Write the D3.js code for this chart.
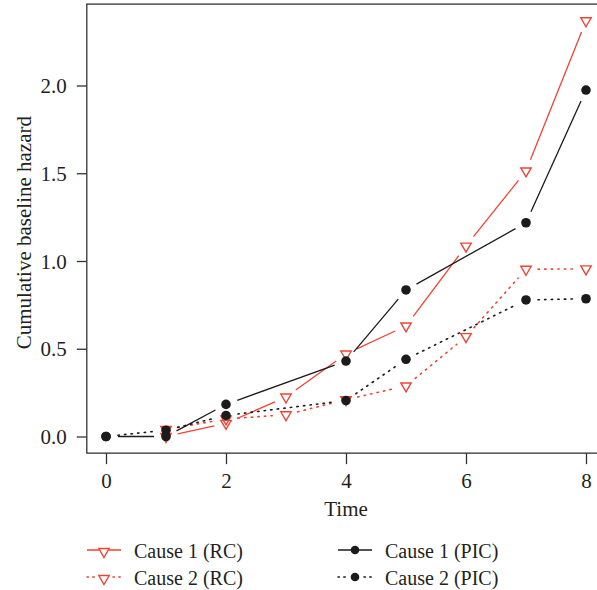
<!DOCTYPE html>
<html>
<head>
<meta charset="utf-8">
<script src="https://cdn.jsdelivr.net/npm/d3@7"></script>
<style>
  html, body { margin: 0; padding: 0; background: #fff; }
  svg { display: block; }
  text { font-family: "Liberation Serif", "DejaVu Serif", serif; fill: #231f20; }
</style>
</head>
<body>
<svg id="chart" width="597" height="590"></svg>
<script>
// Cumulative baseline hazard estimates, RC vs PIC, per cause
const timesRC = [1, 2, 3, 4, 5, 6, 7, 8];
const cause1RC = [0.00, 0.075, 0.225, 0.47, 0.63, 1.085, 1.513, 2.369];
const cause2RC = [0.04, 0.10, 0.124, 0.21, 0.288, 0.569, 0.953, 0.955];

const timesPIC = [0, 1, 2, 4, 5, 7, 8];
const cause1PIC = [0.00, 0.00, 0.183, 0.43, 0.835, 1.218, 1.974];
const cause2PIC = [0.00, 0.036, 0.12, 0.205, 0.44, 0.778, 0.785];

const xTicks = [0, 2, 4, 6, 8];
const yTicks = [0, 0.5, 1.0, 1.5, 2.0];

const legendLabels = ["Cause 1 (RC)", "Cause 2 (RC)", "Cause 1 (PIC)", "Cause 2 (PIC)"];

const RED = "#ee4433";
const BLACK = "#1c1a1b";
const AXIS = "#333333";
const DOTTED = "1.4,5.2";

const svg = d3.select("#chart");

// data range padded by 4% on each side
const xMin = 0, xMax = 8, yMin = 0, yMax = 2.369;
const xPad = (xMax - xMin) * 0.04, yPad = (yMax - yMin) * 0.04;

const x = d3.scaleLinear().domain([0, 8]).range([106, 586]);
const y = d3.scaleLinear().domain([0, 2]).range([436.5, 85.5]);

const frame = {
  left: x(xMin - xPad), right: x(xMax + xPad),
  top: y(yMax + yPad), bottom: y(yMin - yPad)
};

// plot box
svg.append("rect")
  .attr("x", frame.left).attr("y", frame.top)
  .attr("width", frame.right - frame.left)
  .attr("height", frame.bottom - frame.top)
  .attr("fill", "none").attr("stroke", AXIS).attr("stroke-width", 1.3);

// axes
const yAxis = d3.axisLeft(y).tickValues(yTicks).tickFormat(d3.format(".1f"))
  .tickSize(10).tickPadding(10);
const gy = svg.append("g").attr("transform", `translate(${frame.left},0)`).call(yAxis);

const xAxis = d3.axisBottom(x).tickValues(xTicks).tickFormat(d3.format("d"))
  .tickSize(11).tickPadding(9);
const gx = svg.append("g").attr("transform", `translate(0,${frame.bottom})`).call(xAxis);

[gx, gy].forEach(g => {
  g.select(".domain").remove();
  g.selectAll(".tick line").attr("stroke", AXIS).attr("stroke-width", 1.3);
  g.selectAll(".tick text")
    .attr("fill", "#231f20")
    .style("font-family", '"Liberation Serif", "DejaVu Serif", serif')
    .style("font-size", "21px");
});
gy.selectAll(".tick text").attr("dy", "0.34em");

// axis titles
svg.append("text")
  .attr("x", (frame.left + 586) / 2 + 0).attr("y", 516)
  .attr("text-anchor", "middle").style("font-size", "21px")
  .attr("transform", null)
  .attr("x", x(4)).text("Time");

svg.append("text")
  .attr("transform", `translate(31,${(frame.top + frame.bottom) / 2 + 4}) rotate(-90)`)
  .attr("text-anchor", "middle").style("font-size", "21px")
  .text("Cumulative baseline hazard");

// line segments between consecutive points, leaving a gap around each marker
const GAP = 12;
function gappedSegments(px) {
  const segs = [];
  for (let i = 0; i < px.length - 1; i++) {
    const [x0, y0] = px[i], [x1, y1] = px[i + 1];
    const dx = x1 - x0, dy = y1 - y0, len = Math.hypot(dx, dy);
    if (len <= 2 * GAP) continue;
    const ux = dx / len, uy = dy / len;
    segs.push([[x0 + ux * GAP, y0 + uy * GAP], [x1 - ux * GAP, y1 - uy * GAP]]);
  }
  return segs;
}

const line = d3.line();

// down-pointing open triangle centred on its centroid
const TRI_R = 6.0;
function triPath(cx, cy, r) {
  const h = r * Math.sqrt(3) / 2;
  return `M${cx},${cy + r}L${cx + h},${cy - r / 2}L${cx - h},${cy - r / 2}Z`;
}

const series = [
  { t: timesRC, v: cause1RC, color: RED, dash: null, marker: "tri" },
  { t: timesRC, v: cause2RC, color: RED, dash: DOTTED, marker: "tri" },
  { t: timesPIC, v: cause1PIC, color: BLACK, dash: null, marker: "dot" },
  { t: timesPIC, v: cause2PIC, color: BLACK, dash: DOTTED, marker: "dot" }
];

series.forEach(s => {
  const pts = s.t.map((t, i) => [x(t), y(s.v[i])]);
  const g = svg.append("g");
  g.selectAll("path.seg").data(gappedSegments(pts)).join("path")
    .attr("class", "seg")
    .attr("d", line)
    .attr("fill", "none")
    .attr("stroke", s.color)
    .attr("stroke-width", s.dash ? 1.6 : 1.3)
    .attr("stroke-linecap", s.dash ? "round" : "butt")
    .attr("stroke-dasharray", s.dash);
  if (s.marker === "tri") {
    g.selectAll("path.mk").data(pts).join("path")
      .attr("class", "mk")
      .attr("d", d => triPath(d[0], d[1], TRI_R))
      .attr("fill", "none").attr("stroke", s.color).attr("stroke-width", 1.4);
  } else {
    g.selectAll("circle").data(pts).join("circle")
      .attr("cx", d => d[0]).attr("cy", d => d[1]).attr("r", 4.8)
      .attr("fill", s.color);
  }
});

// legend
const legendItems = [
  { label: legendLabels[0], color: RED, dash: null, marker: "tri", lx: 87, ly: 550 },
  { label: legendLabels[1], color: RED, dash: DOTTED, marker: "tri", lx: 87, ly: 577 },
  { label: legendLabels[2], color: BLACK, dash: null, marker: "dot", lx: 338, ly: 550 },
  { label: legendLabels[3], color: BLACK, dash: DOTTED, marker: "dot", lx: 338, ly: 577 }
];
const lg = svg.append("g");
legendItems.forEach(it => {
  const g = lg.append("g");
  const cx = it.lx + 17;
  if (it.dash) {
    [[it.lx, cx - 9], [cx + 9, it.lx + 35]].forEach(([a, b]) => {
      g.append("path").attr("d", line([[a, it.ly], [b, it.ly]]))
        .attr("stroke", it.color).attr("stroke-width", 1.6)
        .attr("stroke-linecap", "round").attr("stroke-dasharray", "1.4,4.4");
    });
  } else {
    g.append("path").attr("d", line([[it.lx, it.ly], [it.lx + 34, it.ly]]))
      .attr("stroke", it.color).attr("stroke-width", 1.3);
  }
  if (it.marker === "tri") {
    g.append("path").attr("d", triPath(cx, it.ly + 1.5, TRI_R))
      .attr("fill", "#fff").attr("stroke", it.color).attr("stroke-width", 1.4);
  } else {
    g.append("circle").attr("cx", cx).attr("cy", it.ly).attr("r", 4.3).attr("fill", it.color);
  }
  g.append("text").attr("x", it.lx + 47).attr("y", it.ly + 7.5)
    .style("font-size", "20px").text(it.label);
});
</script>
</body>
</html>
